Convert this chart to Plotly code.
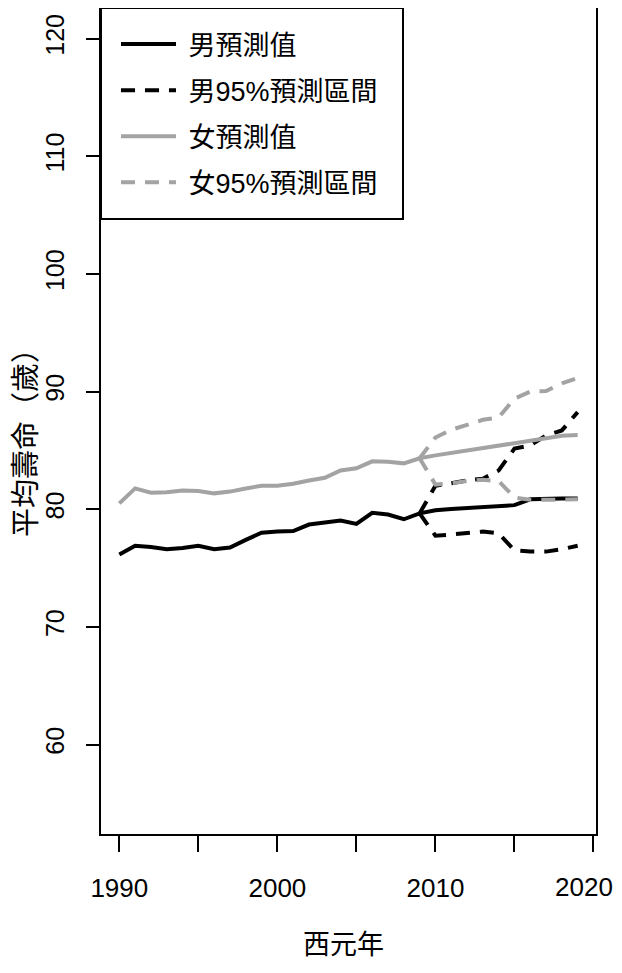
import plotly.graph_objects as go

years = list(range(1990, 2020))
male_pred = [76.15, 76.9, 76.8, 76.6, 76.7, 76.9, 76.6, 76.75, 77.4, 78.0,
             78.1, 78.15, 78.7, 78.87, 79.05, 78.75, 79.7, 79.55, 79.15, 79.65,
             79.92, 80.03, 80.1, 80.2, 80.32, 80.35, 80.84, 80.92, 80.92, 80.92]
female_pred = [80.5, 81.77, 81.4, 81.45, 81.6, 81.55, 81.35, 81.5, 81.77, 81.99,
               82.0, 82.16, 82.45, 82.67, 83.3, 83.48, 84.07, 84.03, 83.9, 84.33,
               84.58, 84.8, 85.01, 85.22, 85.44, 85.6, 85.82, 86.03, 86.25, 86.3]

pi_years = list(range(2009, 2020))
male_upper = [79.65, 82.0, 82.2, 82.45, 82.6, 83.3, 85.15, 85.42, 86.27, 86.7, 88.25]
male_lower = [79.65, 77.75, 77.85, 78.0, 78.1, 77.95, 76.5, 76.4, 76.4, 76.6, 76.9]
female_upper = [84.33, 86.1, 86.75, 87.2, 87.6, 87.8, 89.4, 90.0, 90.05, 90.7, 91.15]
female_lower = [84.33, 82.1, 82.2, 82.4, 82.5, 82.4, 81.0, 80.8, 80.8, 80.8, 80.85]

legend_names = ["男預測值", "男95%預測區間", "女預測值", "女95%預測區間"]
NB = "\u00a0"
x_tickvals = [1990, 1995, 2000, 2005, 2010, 2015, 2020]
x_ticktext = ["1990", "", "2000", "", "2010", "", ""]
last_tick_label = "2020"   # drawn as an annotation at x=2020 so it stays inside the window
y_tickvals = [60, 70, 80, 90, 100, 110, 120]

BLACK = "#000000"
GRAY = "#A3A3A3"
DASH = "14px,10px"
LW = 4
FONT = "Liberation Sans, Arial, Noto Sans CJK TC, sans-serif"

# The page body keeps its default 8px margin, so the figure starts at (8, 8) in the window.
# Plot area in the window: x 101..596, y 8..834.
W, H = 614, 957
ML, MR, MT, MB = 93, 26, 0, 131
PW = W - ML - MR
PH = H - MT - MB

fig = go.Figure()
fig.add_trace(go.Scatter(x=years, y=male_pred, mode="lines", name=NB + legend_names[0],
                         legendgroup="a", line=dict(color=BLACK, width=LW)))
fig.add_trace(go.Scatter(x=pi_years, y=male_upper, mode="lines", name=NB + legend_names[1],
                         legendgroup="b", line=dict(color=BLACK, width=LW, dash=DASH)))
fig.add_trace(go.Scatter(x=pi_years, y=male_lower, mode="lines", name=NB + legend_names[1],
                         legendgroup="b", showlegend=False,
                         line=dict(color=BLACK, width=LW, dash=DASH)))
fig.add_trace(go.Scatter(x=years, y=female_pred, mode="lines", name=NB + legend_names[2],
                         legendgroup="c", line=dict(color=GRAY, width=LW)))
fig.add_trace(go.Scatter(x=pi_years, y=female_upper, mode="lines", name=NB + legend_names[3],
                         legendgroup="d", line=dict(color=GRAY, width=LW, dash=DASH)))
fig.add_trace(go.Scatter(x=pi_years, y=female_lower, mode="lines", name=NB + legend_names[3],
                         legendgroup="d", showlegend=False,
                         line=dict(color=GRAY, width=LW, dash=DASH)))

legend_box_right = 403 - 101   # px from plot left
legend_box_bottom = 219 - 8    # px from plot top

fig.update_layout(
    width=W, height=H,
    margin=dict(l=ML, r=MR, t=MT, b=MB),
    paper_bgcolor="white", plot_bgcolor="white",
    font=dict(family=FONT, color="black"),
    showlegend=True,
    legend=dict(x=15 / PW, y=1 - 12 / PH, xanchor="left", yanchor="top",
                bgcolor="rgba(0,0,0,0)", borderwidth=0,
                font=dict(size=27, family=FONT), tracegroupgap=8,
                traceorder="grouped", itemwidth=55),
    shapes=[dict(type="rect", xref="paper", yref="paper",
                 x0=0, x1=legend_box_right / PW, y0=1 - legend_box_bottom / PH, y1=1,
                 line=dict(color="black", width=2), fillcolor="white", layer="below")],
    xaxis=dict(range=[1988.84, 2020.16], tickvals=x_tickvals, ticktext=x_ticktext,
               ticks="outside", ticklen=16, tickwidth=2, tickcolor="black",
               showline=True, linecolor="black", linewidth=2, mirror=True,
               showgrid=False, zeroline=False, ticklabelstandoff=14,
               automargin=False,
               tickfont=dict(size=26, family=FONT)),
    yaxis=dict(range=[52.4, 122.6], tickvals=y_tickvals,
               ticks="outside", ticklen=13, tickwidth=2, tickcolor="black",
               showline=True, linecolor="black", linewidth=2, mirror=True,
               showgrid=False, zeroline=False, tickangle=-90, ticklabelstandoff=12,
               automargin=False,
               tickfont=dict(size=25, family=FONT)),
    annotations=[
        dict(text=last_tick_label, xref="x", yref="paper", x=x_tickvals[-1],
             y=-(887 - 834) / PH, xshift=-9,
             xanchor="center", yanchor="middle", showarrow=False,
             font=dict(size=26, family=FONT)),
        dict(text="西元年", xref="paper", yref="paper", x=0.49, y=-(945 - 834) / PH,
             xanchor="center", yanchor="middle", showarrow=False,
             font=dict(size=27, family=FONT)),
        dict(text="平均壽命（歲）", xref="paper", yref="paper", x=-(101 - 26) / PW,
             y=(834 - 436) / PH,
             xanchor="center", yanchor="middle", showarrow=False, textangle=-90,
             font=dict(size=29, family=FONT)),
    ],
)

fig.write_html("out.html")
